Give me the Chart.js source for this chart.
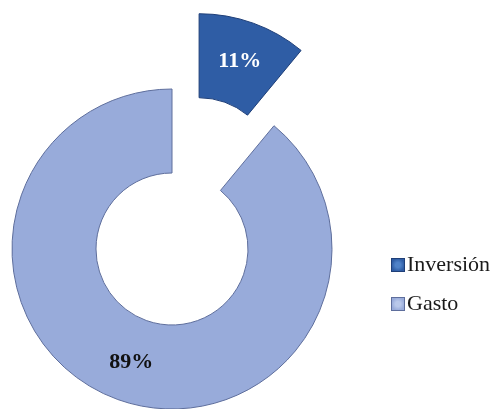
<!DOCTYPE html>
<html>
<head>
<meta charset="utf-8">
<script src="https://cdn.jsdelivr.net/npm/chart.js@4/dist/chart.umd.min.js"></script>
<style>
  html,body{margin:0;padding:0;background:#fff;}
  #wrap{position:relative;width:497px;height:409px;}
  canvas{position:absolute;left:0;top:0;}
  .lg{position:absolute;left:391px;font:22px 'Liberation Serif','Times New Roman',serif;line-height:22px;color:#1a1a1a;white-space:nowrap;}
  .lg i{position:absolute;left:0;top:5px;width:12px;height:12px;border:1px solid;}
  .lg span{position:absolute;left:16px;top:0;}
</style>
</head>
<body>
<div id="wrap">
  <canvas id="c" width="497" height="409"></canvas>
  <div id="legend"></div>
</div>
<script>
// Data
const LABELS=['Inversión','Gasto'];
const VALUES=[11,89];
const COLORS=['#2F5DA5','#98ABDA'];
const BORDERS=['#1F3F78','#5E6E9C'];
const LEG_INNER=['#4F82C8','#B9C8EA'];
// how far each slice is pulled out (px)
const EXPLODE=[80,0];
const LABEL_COLORS=['#ffffff','#111111'];

(function(){
  const total=VALUES.reduce((a,b)=>a+b,0);

  // pull slices out along their bisector, without growing them
  const explode={id:'explode',
    afterDatasetUpdate(chart,args){
      args.meta.data.forEach((arc,i)=>{
        const d=EXPLODE[i]; if(!d||arc._exploded) return;
        const draw=arc.draw;
        arc.draw=function(ctx){
          const mid=(this.startAngle+this.endAngle)/2;
          ctx.save(); ctx.translate(Math.cos(mid)*d,Math.sin(mid)*d);
          draw.call(this,ctx); ctx.restore();
        };
        arc._exploded=true;
      });
    }};

  // percent labels inside the slices
  const pctLabels={id:'pctLabels',
    afterDatasetsDraw(chart){
      const ctx=chart.ctx, meta=chart.getDatasetMeta(0);
      ctx.save();
      ctx.font="bold 22px 'Liberation Serif','Times New Roman',serif";
      ctx.textAlign='center'; ctx.textBaseline='middle';
      meta.data.forEach((arc,i)=>{
        const mid=(arc.startAngle+arc.endAngle)/2;
        const r=(arc.innerRadius+arc.outerRadius)/2+2;
        const x=arc.x+Math.cos(mid)*(r+EXPLODE[i]);
        const y=arc.y+Math.sin(mid)*(r+EXPLODE[i]);
        ctx.fillStyle=LABEL_COLORS[i];
        ctx.fillText(Math.round(VALUES[i]/total*100)+'%',x,y);
      });
      ctx.restore();
    }};

  new Chart(document.getElementById('c'),{type:'doughnut',
    data:{labels:LABELS,datasets:[{data:VALUES,backgroundColor:COLORS,borderColor:BORDERS,borderWidth:1}]},
    options:{animation:false,responsive:false,radius:160,cutout:'47.5%',clip:false,
      layout:{padding:{left:0,top:89,right:153,bottom:0}},
      plugins:{legend:{display:false},tooltip:{enabled:false}}},
    plugins:[explode,pctLabels]
  });

  // legend on the right
  const lg=document.getElementById('legend');
  const tops=[253,292];
  LABELS.forEach((l,i)=>{
    const d=document.createElement('div'); d.className='lg'; d.style.top=tops[i]+'px';
    d.innerHTML='<i style="background:radial-gradient(circle,'+LEG_INNER[i]+' 30%,'+COLORS[i]+' 75%);border-color:'+BORDERS[i]+'"></i><span>'+l+'</span>';
    lg.appendChild(d);
  });
})();
</script>
</body>
</html>
